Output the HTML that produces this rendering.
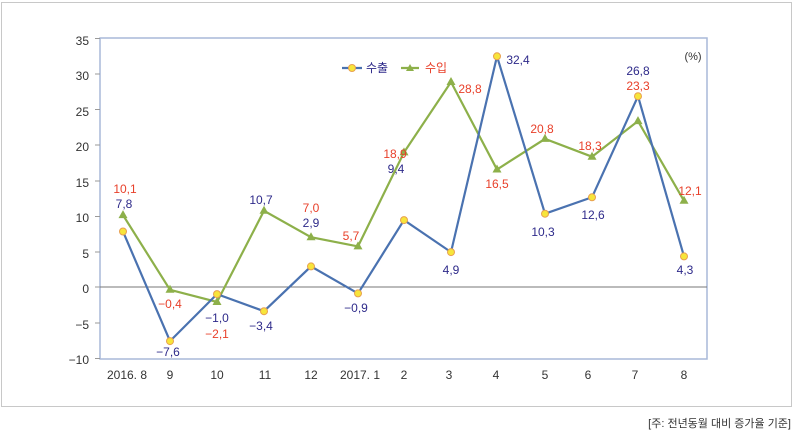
<!DOCTYPE html>
<html><head><meta charset="utf-8"><style>
html,body{margin:0;padding:0;background:#fff;}
svg{display:block;font-family:"Liberation Sans","Noto Sans CJK KR",sans-serif;}
</style></head><body>
<svg width="794" height="433" viewBox="0 0 794 433">
<rect x="1.5" y="2.5" width="790" height="404" fill="#fff" stroke="#c8c8c8"/>
<rect x="100" y="38" width="607" height="321" fill="#fff" stroke="#a9b9d9" stroke-width="1.5"/>
<line x1="100" y1="287" x2="707" y2="287" stroke="#777" stroke-width="1"/>
<g stroke="#999" stroke-width="1">
<line x1="95" y1="38.5" x2="100" y2="38.5"/><line x1="95" y1="74" x2="100" y2="74"/><line x1="95" y1="109.5" x2="100" y2="109.5"/><line x1="95" y1="145" x2="100" y2="145"/><line x1="95" y1="181" x2="100" y2="181"/><line x1="95" y1="216.5" x2="100" y2="216.5"/><line x1="95" y1="252" x2="100" y2="252"/><line x1="95" y1="287" x2="100" y2="287"/><line x1="95" y1="323" x2="100" y2="323"/><line x1="95" y1="358.5" x2="100" y2="358.5"/>
</g>
<g font-size="12" fill="#333" text-anchor="end">
<text x="89" y="45">35</text><text x="89" y="80">30</text><text x="89" y="116">25</text><text x="89" y="151">20</text><text x="89" y="187">15</text><text x="89" y="222">10</text><text x="89" y="258">5</text><text x="89" y="293">0</text><text x="89" y="329">−5</text><text x="89" y="364">−10</text>
</g>
<g font-size="12" fill="#333" text-anchor="middle">
<text x="127" y="379">2016. 8</text><text x="170" y="379">9</text><text x="217" y="379">10</text><text x="265" y="379">11</text><text x="311" y="379">12</text><text x="360" y="379">2017. 1</text><text x="404" y="379">2</text><text x="449" y="379">3</text><text x="496" y="379">4</text><text x="545" y="379">5</text><text x="588" y="379">6</text><text x="635" y="379">7</text><text x="684" y="379">8</text>
</g>
<text x="693" y="60" font-size="11" fill="#333" text-anchor="middle">(%)</text>
<polyline fill="none" stroke="#8db04a" stroke-width="2.2" points="123,215.1 170,289.8 217,302 264,210.8 311,237.2 358,246.4 404,152.4 451,82 497,169.5 545,138.9 592,156.7 638,121.1 684,200.8"/>
<g fill="#8db04a">
<polygon points="123,210.1 118.5,218.1 127.5,218.1"/><polygon points="170,284.8 165.5,292.8 174.5,292.8"/><polygon points="217,297 212.5,305 221.5,305"/><polygon points="264,205.8 259.5,213.8 268.5,213.8"/><polygon points="311,232.2 306.5,240.2 315.5,240.2"/><polygon points="358,241.4 353.5,249.4 362.5,249.4"/><polygon points="404,147.4 399.5,155.4 408.5,155.4"/><polygon points="451,77 446.5,85 455.5,85"/><polygon points="497,164.5 492.5,172.5 501.5,172.5"/><polygon points="545,133.9 540.5,141.9 549.5,141.9"/><polygon points="592,151.7 587.5,159.7 596.5,159.7"/><polygon points="638,116.1 633.5,124.1 642.5,124.1"/><polygon points="684,195.8 679.5,203.8 688.5,203.8"/>
</g>
<polyline fill="none" stroke="#4a72b0" stroke-width="2.2" points="123,231.5 170,341.1 217,294.1 264,311.2 311,266.4 358,293.4 404,220.1 451,252.1 497,56.3 545,213.7 592,197.3 638,96.2 684,256.4"/>
<g fill="#f7e53a" stroke="#e8a050" stroke-width="1">
<circle cx="123" cy="231.5" r="3.5"/><circle cx="170" cy="341.1" r="3.5"/><circle cx="217" cy="294.1" r="3.5"/><circle cx="264" cy="311.2" r="3.5"/><circle cx="311" cy="266.4" r="3.5"/><circle cx="358" cy="293.4" r="3.5"/><circle cx="404" cy="220.1" r="3.5"/><circle cx="451" cy="252.1" r="3.5"/><circle cx="497" cy="56.3" r="3.5"/><circle cx="545" cy="213.7" r="3.5"/><circle cx="592" cy="197.3" r="3.5"/><circle cx="638" cy="96.2" r="3.5"/><circle cx="684" cy="256.4" r="3.5"/>
</g>
<g font-size="12" text-anchor="middle" fill="#e8402a">
<text x="125" y="193">10,1</text><text x="170" y="308">−0,4</text><text x="217" y="338">−2,1</text><text x="311" y="212">7,0</text><text x="351" y="240">5,7</text><text x="395" y="158">18,9</text><text x="470" y="93">28,8</text><text x="497" y="188">16,5</text><text x="542" y="133">20,8</text><text x="590" y="150">18,3</text><text x="638" y="90">23,3</text><text x="690" y="195">12,1</text>
</g>
<g font-size="12" text-anchor="middle" fill="#2e2a8a">
<text x="124" y="208">7,8</text><text x="168" y="356">−7,6</text><text x="217" y="322">−1,0</text><text x="261" y="204">10,7</text><text x="261" y="330">−3,4</text><text x="311" y="227">2,9</text><text x="356" y="312">−0,9</text><text x="396" y="173">9,4</text><text x="451" y="274">4,9</text><text x="518" y="64">32,4</text><text x="543" y="236">10,3</text><text x="593" y="219">12,6</text><text x="638" y="75">26,8</text><text x="685" y="274">4,3</text>
</g>
<line x1="342" y1="68" x2="362" y2="68" stroke="#4a72b0" stroke-width="2.2"/>
<circle cx="352" cy="68" r="3.5" fill="#f7e53a" stroke="#e8a050"/>
<text x="366" y="72" font-size="12" fill="#2e2a8a">수출</text>
<line x1="401" y1="68" x2="419" y2="68" stroke="#8db04a" stroke-width="2.2"/>
<polygon points="410,64 406,71 414,71" fill="#8db04a"/>
<text x="425" y="72" font-size="12" fill="#e8402a">수입</text>
<text x="791" y="427" font-size="11" fill="#333" text-anchor="end">[주: 전년동월 대비 증가율 기준]</text>
</svg>
</body></html>
